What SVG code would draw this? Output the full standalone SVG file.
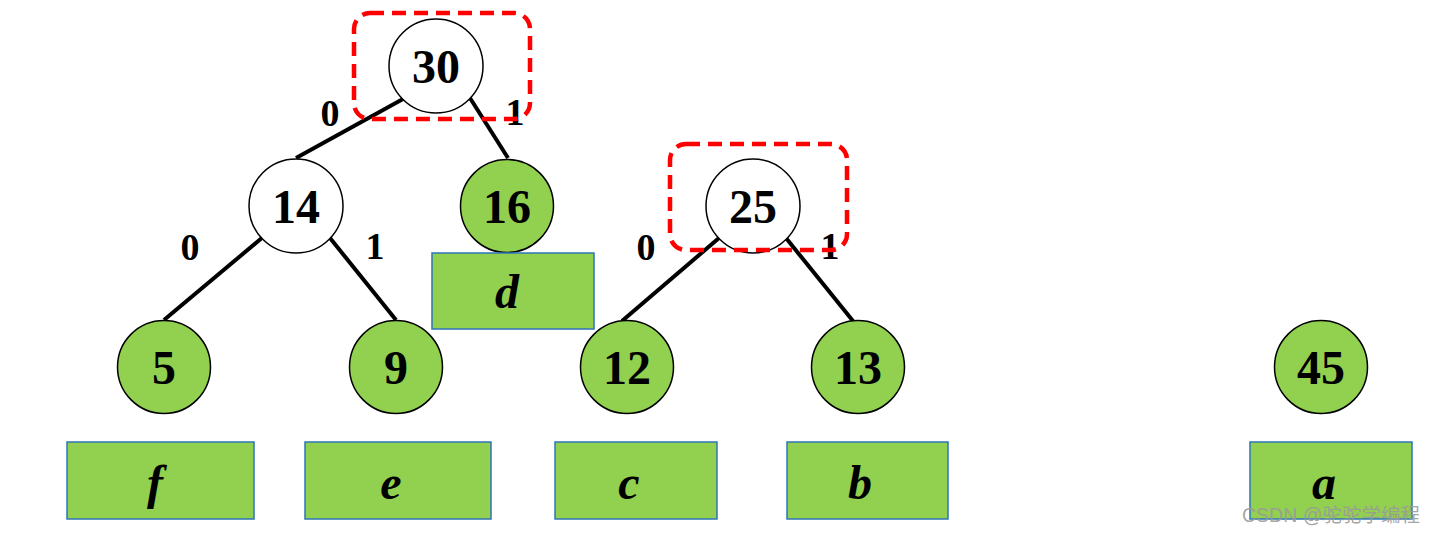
<svg xmlns="http://www.w3.org/2000/svg" width="1438" height="534" viewBox="0 0 1438 534">
<style>
.c{stroke:#000;stroke-width:1.5}
.w{fill:#fff}
.g{fill:#92D050}
.r{fill:#92D050;stroke:#2E75B6;stroke-width:1.5}
.n{font-family:"Liberation Serif",serif;font-weight:bold;font-size:48px;text-anchor:middle;fill:#000}
.l{font-family:"Liberation Serif",serif;font-weight:bold;font-style:italic;font-size:48px;text-anchor:middle;fill:#000}
.e{font-family:"Liberation Serif",serif;font-weight:bold;font-size:38px;text-anchor:middle;fill:#000}
.h{fill:none;stroke:#FF0000;stroke-width:4.5;stroke-dasharray:14 8}
.k{stroke:#000;stroke-width:4;fill:none}
</style>
<rect width="1438" height="534" fill="#fff"/>
<g id="connectors">
<line class="k" x1="403" y1="99" x2="296" y2="158"/>
<line class="k" x1="470" y1="98" x2="508" y2="158"/>
<line class="k" x1="263" y1="237" x2="164" y2="320"/>
<line class="k" x1="330" y1="238" x2="396" y2="320"/>
<line class="k" x1="719" y1="238" x2="622" y2="321"/>
<line class="k" x1="786" y1="238" x2="853" y2="321"/>
<text class="e" x="330" y="126">0</text>
<text class="e" x="515" y="125">1</text>
<text class="e" x="190" y="260">0</text>
<text class="e" x="375" y="259">1</text>
<text class="e" x="646" y="260">0</text>
<text class="e" x="830" y="259">1</text>
</g>
<g id="n30"><circle class="c w" cx="436" cy="66" r="47"/><text class="n" x="436" y="83">30</text></g>
<g id="n14"><circle class="c w" cx="296" cy="206" r="47"/><text class="n" x="296" y="223">14</text></g>
<g id="n16"><circle class="c g" cx="507" cy="206" r="46.5"/><text class="n" x="507" y="223">16</text></g>
<g id="n25"><circle class="c w" cx="753" cy="206" r="47"/><text class="n" x="753" y="223">25</text></g>
<g id="n5"><circle class="c g" cx="164" cy="367" r="46.5"/><text class="n" x="164" y="384">5</text></g>
<g id="n9"><circle class="c g" cx="396" cy="367" r="46.5"/><text class="n" x="396" y="384">9</text></g>
<g id="n12"><circle class="c g" cx="627" cy="367" r="46.5"/><text class="n" x="627" y="384">12</text></g>
<g id="n13"><circle class="c g" cx="858" cy="367" r="46.5"/><text class="n" x="858" y="384">13</text></g>
<g id="n45"><circle class="c g" cx="1321" cy="367" r="46.5"/><text class="n" x="1321" y="384">45</text></g>
<g id="ld"><rect class="r" x="432" y="253" width="162" height="76"/><text class="l" x="507" y="308">d</text></g>
<g id="lf"><rect class="r" x="67" y="442" width="187" height="77"/><text class="l" x="155" y="499">f</text></g>
<g id="le"><rect class="r" x="305" y="442" width="186" height="77"/><text class="l" x="391" y="499">e</text></g>
<g id="lc"><rect class="r" x="555" y="442" width="162" height="77"/><text class="l" x="629" y="499">c</text></g>
<g id="lb"><rect class="r" x="787" y="442" width="161" height="77"/><text class="l" x="860" y="499">b</text></g>
<g id="la"><rect class="r" x="1250" y="442" width="162" height="77"/><text class="l" x="1324" y="499">a</text></g>
<g id="highlights">
<rect class="h" x="354" y="13" width="176" height="106" rx="16"/>
<rect class="h" x="670" y="144" width="177" height="106" rx="16"/>
</g>
<text x="1242" y="522" font-family="'Liberation Sans','Noto Sans CJK SC',sans-serif" font-size="19.5" fill="#9a9a9a" fill-opacity="0.9">CSDN @驼驼学编程</text>
</svg>
